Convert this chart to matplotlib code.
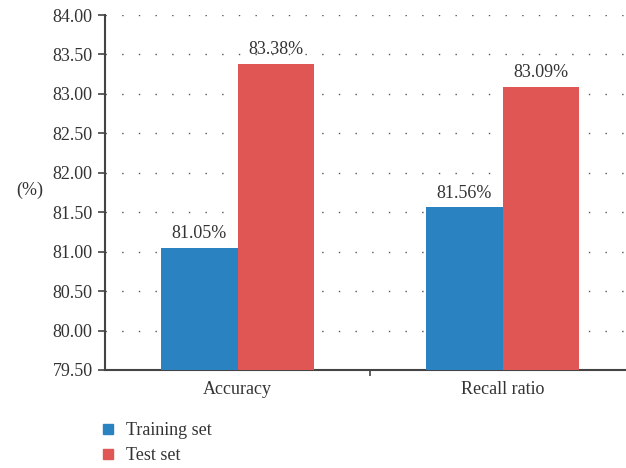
import numpy as np
import matplotlib
matplotlib.use("Agg")
import matplotlib.pyplot as plt
from matplotlib.lines import Line2D

categories = ["Accuracy", "Recall ratio"]
training = [81.05, 81.56]
test = [83.38, 83.09]
series_names = ["Training set", "Test set"]
yticks = [79.50, 80.00, 80.50, 81.00, 81.50, 82.00, 82.50, 83.00, 83.50, 84.00]

blue = "#2a82c0"
red = "#df5655"
axis_col = "#444444"
txt_col = "#333333"
fs = 13

plt.rcParams['font.family'] = ['Liberation Serif', 'DejaVu Serif']
plt.rcParams['font.size'] = fs

fig = plt.figure(figsize=(6.26, 4.68), dpi=100)
ax = fig.add_axes([105 / 626, 98 / 468, 530 / 626, 355 / 468])

x = np.arange(len(categories))
w = 0.287
ax.bar(x - w / 2, np.array(training) - 79.5, w, bottom=79.5, color=blue, zorder=3)
ax.bar(x + w / 2, np.array(test) - 79.5, w, bottom=79.5, color=red, zorder=3)

for xi, v in zip(x - w / 2, training):
    ax.text(xi, v + 0.07, "%.2f%%" % v, ha="center", va="bottom", color=txt_col, fontsize=fs)
for xi, v in zip(x + w / 2, test):
    ax.text(xi, v + 0.07, "%.2f%%" % v, ha="center", va="bottom", color=txt_col, fontsize=fs)

ax.set_xlim(-0.5, 1.5)
ax.set_ylim(79.5, 84.0)
ax.set_yticks(yticks)
ax.set_yticklabels(["%.2f" % t for t in yticks])
ax.set_xticks(x)
ax.set_xticklabels(categories)
ax.set_xticks([0.5], minor=True)
ax.tick_params(axis="x", which="major", length=0, pad=8, colors=txt_col)
ax.tick_params(axis="x", which="minor", length=4, width=1.2, color=axis_col)
ax.tick_params(axis="y", length=5, width=1.2, color=axis_col, labelcolor=txt_col, pad=4)

for t in yticks[1:]:
    ax.axhline(t, color="#555555", linestyle=(0, (1, 11)), linewidth=1.0, zorder=1)

for s in ["top", "right"]:
    ax.spines[s].set_visible(False)
for s in ["left", "bottom"]:
    ax.spines[s].set_color(axis_col)
    ax.spines[s].set_linewidth(1.5)

fig.text(30 / 626, 1 - 190 / 468, "(%)", ha="center", va="center", color=txt_col, fontsize=fs)

handles = [Line2D([], [], marker="s", linestyle="none", markersize=7, color=blue),
           Line2D([], [], marker="s", linestyle="none", markersize=7, color=red)]
fig.legend(handles, series_names, loc="upper left", bbox_to_anchor=(84 / 626, 1 - 406 / 468),
           frameon=False, handlelength=0.9, handletextpad=0.55, labelspacing=0.45,
           fontsize=fs, labelcolor=txt_col)

fig.savefig("out.png", dpi=100)
